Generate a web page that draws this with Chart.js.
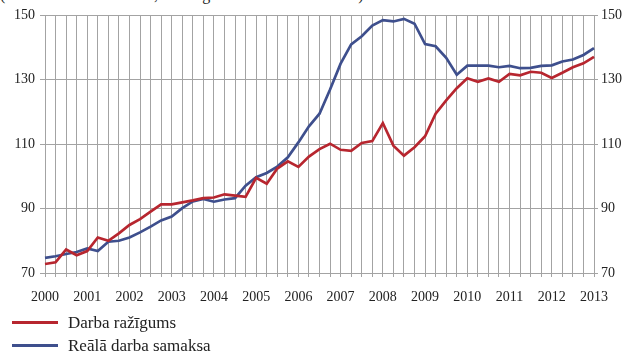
<!DOCTYPE html>
<html>
<head>
<meta charset="utf-8">
<script src="https://cdn.jsdelivr.net/npm/chart.js@4"></script>
<style>
    body { margin: 0; background: #fff; }
    #wrap { position: relative; width: 626px; height: 354px; overflow: hidden; font-family: "Liberation Serif", serif; color: #222; }
    #wrap canvas { position: absolute; left: 0; top: 0; }
    #subtitle { position: absolute; left: 0; top: -14px; font-size: 16px; white-space: nowrap; }
    #legend { position: absolute; left: 12px; top: 311px; font-size: 17px; }
    .item { display: flex; align-items: center; height: 23px; }
    .swatch { width: 46px; height: 3px; margin-right: 10px; }
</style>
</head>
<body>
<div id="wrap">
    <div id="subtitle">(sezonāli izlīdzināti dati; 2000. gada 1. ceturksnis = 100)</div>
    <canvas id="chart" width="626" height="354"></canvas>
    <div id="legend"></div>
</div>
<script>
// Gadi uz x ass (ceturkšņa dati, 2000. g. 1. cet. – 2013. g. 1. cet.)
const years = ['2000', '2001', '2002', '2003', '2004', '2005', '2006',
               '2007', '2008', '2009', '2010', '2011', '2012', '2013'];
const quarters = years.flatMap(y => [y + ' Q1', y + ' Q2', y + ' Q3', y + ' Q4']).slice(0, 53);

// Darba ražīgums
const productivity = [
    72.8, 73.3, 77.3, 75.5, 76.8, 81.0, 80.0, 82.3, 84.9, 86.7, 89.0, 91.3,
    91.3, 91.9, 92.5, 93.2, 93.4, 94.4, 94.0, 93.6, 99.5, 97.7, 102.4, 104.6,
    102.9, 106.1, 108.4, 110.1, 108.2, 107.9, 110.3, 110.9, 116.5, 109.5, 106.4, 109.0,
    112.4, 119.4, 123.5, 127.3, 130.4, 129.3, 130.3, 129.3, 131.7, 131.3, 132.4, 132.1,
    130.5, 132.1, 133.8, 135.0, 137.0
];

// Reālā darba samaksa
const realWage = [
    74.7, 75.2, 75.9, 76.5, 77.6, 76.8, 79.7, 80.0, 81.0, 82.6, 84.4, 86.3,
    87.5, 90.1, 92.2, 93.0, 92.1, 92.8, 93.2, 97.1, 99.7, 101.0, 103.0, 105.9,
    110.5, 115.5, 119.4, 126.9, 134.9, 140.9, 143.4, 146.7, 148.4, 148.0, 148.8, 147.3,
    141.0, 140.3, 136.7, 131.5, 134.3, 134.3, 134.3, 133.8, 134.2, 133.5, 133.6, 134.2,
    134.4, 135.6, 136.2, 137.6, 139.7
];

const yTicks = [70, 90, 110, 130, 150];

const gridColor = '#a3a3a3';
const tickFont = { family: 'Liberation Serif', size: 14 };

const datasets = [
    { label: 'Darba ražīgums', data: productivity, borderColor: '#b7262f' },
    { label: 'Reālā darba samaksa', data: realWage, borderColor: '#3e4f8d' }
].map(ds => Object.assign(ds, {
    borderWidth: 2.7,
    pointRadius: 0,
    tension: 0,
    fill: false,
    yAxisID: 'y'
}));

function yAxis(position, width, tickLength, padding) {
    return {
        position: position,
        min: yTicks[0],
        max: yTicks[yTicks.length - 1],
        afterBuildTicks: scale => { scale.ticks = yTicks.map(v => ({ value: v })); },
        afterFit: scale => { scale.width = width; },
        grid: {
            color: gridColor,
            lineWidth: 1,
            tickLength: tickLength,
            drawOnChartArea: position === 'left'
        },
        border: { color: gridColor },
        ticks: { color: '#222', font: tickFont, padding: padding }
    };
}

new Chart(document.getElementById('chart'), {
    type: 'line',
    data: { labels: quarters, datasets: datasets },
    options: {
        responsive: false,
        animation: false,
        layout: { padding: { top: 15, left: 0, right: 0, bottom: 0 } },
        plugins: { legend: { display: false }, tooltip: { enabled: false } },
        scales: {
            x: {
                offset: false,
                afterFit: scale => { scale.height = 81; },
                grid: { color: gridColor, lineWidth: 1, tickLength: 4 },
                border: { color: gridColor },
                ticks: {
                    autoSkip: false,
                    maxRotation: 0,
                    padding: 12,
                    color: '#222',
                    font: tickFont,
                    callback: (val, idx) => idx % 4 === 0 ? years[idx / 4] : ''
                }
            },
            y: yAxis('left', 45, 5, 5),
            y2: yAxis('right', 32, 4, 3)
        }
    }
});

// Leģenda zem grafika
const legend = document.getElementById('legend');
datasets.forEach(ds => {
    const item = document.createElement('div');
    item.className = 'item';
    item.innerHTML = `<span class="swatch" style="background:${ds.borderColor}"></span><span>${ds.label}</span>`;
    legend.appendChild(item);
});
</script>
</body>
</html>
